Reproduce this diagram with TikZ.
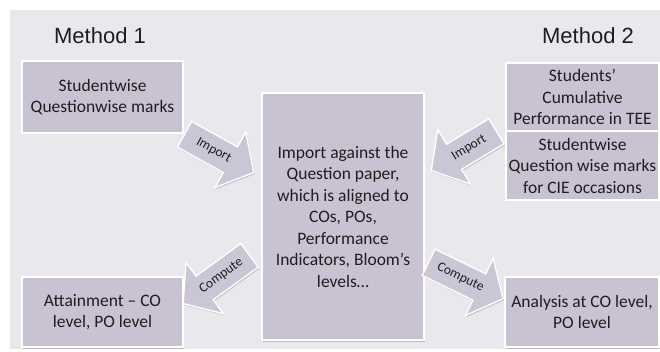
\documentclass[tikz,border=0pt]{standalone}
\usepackage{fontspec}
\setmainfont{Carlito}
\newfontfamily\headfont{Liberation Sans}
\usetikzlibrary{shapes.arrows,shadows}
\definecolor{bg}{HTML}{E9E8ED}
\definecolor{lav}{HTML}{C8C2D3}
\definecolor{lavarr}{HTML}{CBC6D6}
\definecolor{ink}{HTML}{1E1E1E}
\tikzset{
  box/.style={draw=white,line width=1.6pt,fill=lav,text=ink,align=center,inner sep=0pt,
    font=\fontsize{17.5}{21.5}\selectfont,
    drop shadow={shadow xshift=1pt,shadow yshift=-1.5pt,opacity=0.35,fill=black!60}},
  head/.style={text=ink,font=\headfont\fontsize{22}{26}\selectfont},
  blockarrow/.style={single arrow,draw=white,line width=1.3pt,fill=lavarr,text=ink,
    font=\fontsize{13.5}{13.5}\selectfont,text height=9.5pt,text depth=3pt,
    inner ysep=7.75pt,inner xsep=2pt,single arrow head extend=17pt,
    single arrow tip angle=100,single arrow head indent=0pt,
    drop shadow={shadow xshift=1pt,shadow yshift=-1.5pt,opacity=0.3,fill=black!60}}
}
\begin{document}
\begin{tikzpicture}[x=1pt,y=-1pt]
      \fill[white] (0,0) rectangle (660,352);
      \fill[bg] (10,10) rectangle (660,349);
      \useasboundingbox (0,0) rectangle (660,352);
      \node[head] (m1) at (100,36) {Method 1};
      \node[head] (m2) at (588,36) {Method 2};
      \node[box,minimum width=161pt,minimum height=72pt] (s1) at (102.5,97) {Studentwise\\Questionwise marks};
      \node[box,minimum width=153pt,minimum height=68pt] (t1) at (582.5,97) {Students’\\Cumulative\\Performance in TEE};
      \node[box,minimum width=153pt,minimum height=69pt] (t2) at (582.5,165.5) {Studentwise\\Question wise marks\\for CIE occasions};
      \node[box,minimum width=162pt,minimum height=247pt] (c) at (343,216.5) {Import against the\\Question paper,\\which is aligned to\\COs, POs,\\Performance\\Indicators, Bloom’s\\levels…};
      \node[box,minimum width=161pt,minimum height=70pt] (a1) at (102.5,312) {Attainment – CO\\level, PO level};
      \node[box,minimum width=154pt,minimum height=70pt] (a2) at (582,312) {Analysis at CO level,\\PO level};
      \node[blockarrow,rotate=-29,anchor=tail,minimum height=79pt] (i1) at (184,134) {Import};
      \node[blockarrow,rotate=31,shape border rotate=180,anchor=tail,minimum height=76pt] (i2) at (497,131) {Import};
      \node[blockarrow,rotate=36,shape border rotate=180,anchor=tail,minimum height=82pt] (k1) at (250,255) {Compute};
      \node[blockarrow,rotate=-26,anchor=tail,minimum height=83pt] (k2) at (428,262) {Compute};
    \end{tikzpicture}
\end{document}
